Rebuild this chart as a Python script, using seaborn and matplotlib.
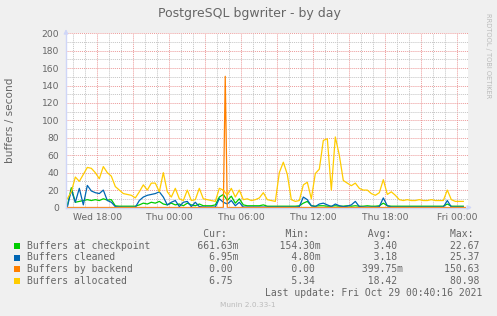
import numpy as np
import pandas as pd
import matplotlib
matplotlib.use("Agg")
import matplotlib.pyplot as plt
import seaborn as sns
from matplotlib.ticker import FixedLocator, MultipleLocator, FuncFormatter

# ---------------- data (hours since Wed 00:00) ----------------
hours = 15.5 + np.arange(100) / 3.0   # 20-minute samples

allocated = [10, 18, 35, 30, 38, 46, 45, 40, 33, 47,
             40, 36, 24, 20, 16, 15, 14, 11, 18, 26,
             20, 28, 28, 18, 40, 18, 12, 22, 10, 8,
             20, 8, 9, 22, 10, 9, 8, 7, 22, 20,
             14, 22, 12, 20, 9, 10, 8, 9, 11, 17,
             9, 8, 7, 40, 52, 38, 9, 7, 8, 26,
             29, 10, 39, 44, 77, 79, 20, 81, 60, 31,
             28, 25, 28, 22, 20, 20, 16, 14, 17, 32,
             15, 18, 14, 9, 8, 9, 8, 8, 9, 8,
             8, 9, 8, 8, 8, 20, 9, 7, 7, 7]

checkpoint = [2, 22.67, 6, 7, 8, 9, 8, 9, 8, 10,
              8.5, 9, 1.9, 1.5, 1.5, 1.5, 1.5, 1.5, 3, 5,
              4, 6, 5, 7, 4, 3, 5, 3, 4, 2,
              5, 3, 2, 4, 2, 2, 2, 3, 12, 15,
              8, 13, 5, 10, 3, 2, 2, 2, 2, 3,
              1.5, 1.5, 1.5, 1.5, 1.5, 1.5, 1.5, 1.5, 2, 5,
              7, 2, 1.5, 2, 2, 1.5, 1.5, 2, 1.5, 1.5,
              2, 1.5, 2, 1.5, 1.5, 2, 1.5, 1.5, 2, 5,
              2, 1.5, 1.5, 1.5, 1.5, 1.5, 1.5, 1.5, 1.5, 1.5,
              1.5, 1.5, 1.5, 1.5, 1.5, 4, 1.5, 1.5, 1.5, 1.5]

cleaned = [0.5, 20, 6, 22, 3, 25.37, 19, 17, 16, 20,
           8, 6, 1, 0.5, 0.3, 0.3, 0.3, 0.3, 8, 12,
           14, 15, 16, 18, 12, 3, 6, 8, 1, 6,
           7, 1, 6, 1, 0.5, 0.5, 0.5, 0.5, 10, 6,
           4, 8, 2, 6, 0.5, 0.5, 0.5, 0.5, 0.5, 0.5,
           0.5, 0.5, 0.5, 0.5, 0.5, 0.5, 0.5, 0.5, 1, 12,
           9, 2, 1, 4, 5, 3, 1, 4, 2, 1,
           1.5, 3, 7, 1, 0.5, 0.5, 0.5, 0.5, 1, 11,
           2, 0.5, 0.5, 0.5, 0.5, 0.5, 0.5, 0.5, 0.5, 0.5,
           0.5, 0.5, 0.5, 0.5, 0.5, 8, 0.5, 0.5, 0.5, 0.5]

backend_hours = [15.5, 28.5, 28.66, 28.83, 48.67]
backend = [0, 0, 150.63, 0, 0]

series_names = ["Buffers at checkpoint", "Buffers cleaned",
                "Buffers by backend", "Buffers allocated"]
colors = ["#00CC00", "#0066B3", "#FF8000", "#FFCC00"]

cur_vals = ["661.63m", "6.95m", "0.00 ", "6.75 "]
min_vals = ["154.30m", "4.80m", "0.00 ", "5.34 "]
avg_vals = ["3.40 ", "3.18 ", "399.75m", "18.42 "]
max_vals = ["22.67 ", "25.37 ", "150.63 ", "80.98 "]

y_ticks = list(range(0, 201, 20))
x_tick_hours = [18, 24, 30, 36, 42, 48]
x_tick_labels = ["Wed 18:00", "Thu 00:00", "Thu 06:00", "Thu 12:00",
                 "Thu 18:00", "Fri 00:00"]

# ---------------- build long table ----------------
frames = [
    pd.DataFrame({"t": hours, "v": checkpoint, "s": series_names[0]}),
    pd.DataFrame({"t": hours, "v": cleaned, "s": series_names[1]}),
    pd.DataFrame({"t": backend_hours, "v": backend, "s": series_names[2]}),
    pd.DataFrame({"t": hours, "v": allocated, "s": series_names[3]}),
]
df = pd.concat(frames, ignore_index=True)

FONT = "#666666"
W, H = 497, 316
fig = plt.figure(figsize=(W / 100, H / 100), dpi=100, facecolor="#F0F0F0")
ax = fig.add_axes([66 / W, (H - 207.5) / H, 402 / W, 174.2 / H])
ax.set_facecolor("white")

sns.lineplot(data=df, x="t", y="v", hue="s", hue_order=series_names,
             palette=colors, estimator=None, sort=True, legend=False,
             linewidth=0.9, ax=ax)

ax.set_xlim(15.39, 48.89)
ax.set_ylim(0, 200)

# grid
ax.yaxis.set_major_locator(FixedLocator(y_ticks))
ax.yaxis.set_minor_locator(MultipleLocator(10))
ax.xaxis.set_major_locator(FixedLocator(np.arange(18, 49, 3)))
ax.xaxis.set_minor_locator(MultipleLocator(1))
lab = dict(zip(x_tick_hours, x_tick_labels))
ax.xaxis.set_major_formatter(FuncFormatter(lambda v, p: lab.get(int(round(v)), "")))
ax.grid(which="major", color="#EC9A9A", linestyle=(0, (1.0, 1.0)), linewidth=0.7)
ax.grid(which="minor", color="#C4C4C4", linestyle=(0, (1.0, 1.0)), linewidth=0.7)
ax.set_axisbelow(True)

ax.tick_params(which="both", length=0, colors=FONT, labelsize=6.6)
ax.tick_params(axis="x", pad=4)
ax.tick_params(axis="y", pad=5)
for lbl in ax.get_xticklabels() + ax.get_yticklabels():
    lbl.set_color(FONT)

for side in ["top", "right"]:
    ax.spines[side].set_visible(False)
for side in ["left", "bottom"]:
    ax.spines[side].set_color("#CFD6F8")
    ax.spines[side].set_linewidth(1.0)
ax.set_xlabel("")
ax.set_ylabel("buffers / second", color=FONT, fontsize=7.6)
ax.yaxis.label.set_va("center")
ax.yaxis.set_label_coords(-56 / 402, 0.5)

# axis arrows
ax.annotate("", xy=(0, 1.04), xytext=(0, 0.98), xycoords="axes fraction",
            arrowprops=dict(arrowstyle="-|>", color="#CFD6F8", lw=1,
                            mutation_scale=6), annotation_clip=False)
ax.annotate("", xy=(1.017, 0), xytext=(0.995, 0), xycoords="axes fraction",
            arrowprops=dict(arrowstyle="-|>", color="#CFD6F8", lw=1,
                            mutation_scale=6), annotation_clip=False)

# title & watermarks
fig.text(249 / W, 1 - 14 / H, "PostgreSQL bgwriter - by day", ha="center",
         va="center", fontsize=9, color=FONT)
fig.text(488 / W, 1 - 56 / H, "RRDTOOL / TOBI OETIKER", rotation=270,
         ha="center", va="center", fontsize=4.8, color="#BBBBBB")
fig.text(248 / W, 1 - 305 / H, "Munin 2.0.33-1", ha="center", va="center",
         fontsize=5.3, color="#BBBBBB")

# legend (monospace)
mono = "DejaVu Sans Mono"
header = " " * 30 + "Cur:".ljust(14) + "Min:".ljust(14) + "Avg:".ljust(14) + "Max:"
fig.text(26.7 / W, 1 - 234 / H, header, ha="left", va="center",
         fontsize=7.0, family=mono, color=FONT)
row_y = [245.7, 257.5, 269.3, 281.2]
for k in range(4):
    line = (series_names[k].ljust(22) + cur_vals[k].rjust(14) +
            min_vals[k].rjust(14) + avg_vals[k].rjust(14) + max_vals[k].rjust(14))
    fig.text(26.7 / W, 1 - row_y[k] / H, line, ha="left", va="center",
             fontsize=7.0, family=mono, color=FONT)
    fig.patches.append(plt.Rectangle((14 / W, 1 - (row_y[k] + 3) / H), 6 / W, 6 / H,
                                     transform=fig.transFigure, facecolor=colors[k],
                                     edgecolor="none"))
fig.text(482.5 / W, 1 - 293.2 / H, "Last update: Fri Oct 29 00:40:16 2021",
         ha="right", va="center", fontsize=7.0, family=mono, color=FONT)

fig.savefig("out.png", dpi=100, facecolor=fig.get_facecolor())
